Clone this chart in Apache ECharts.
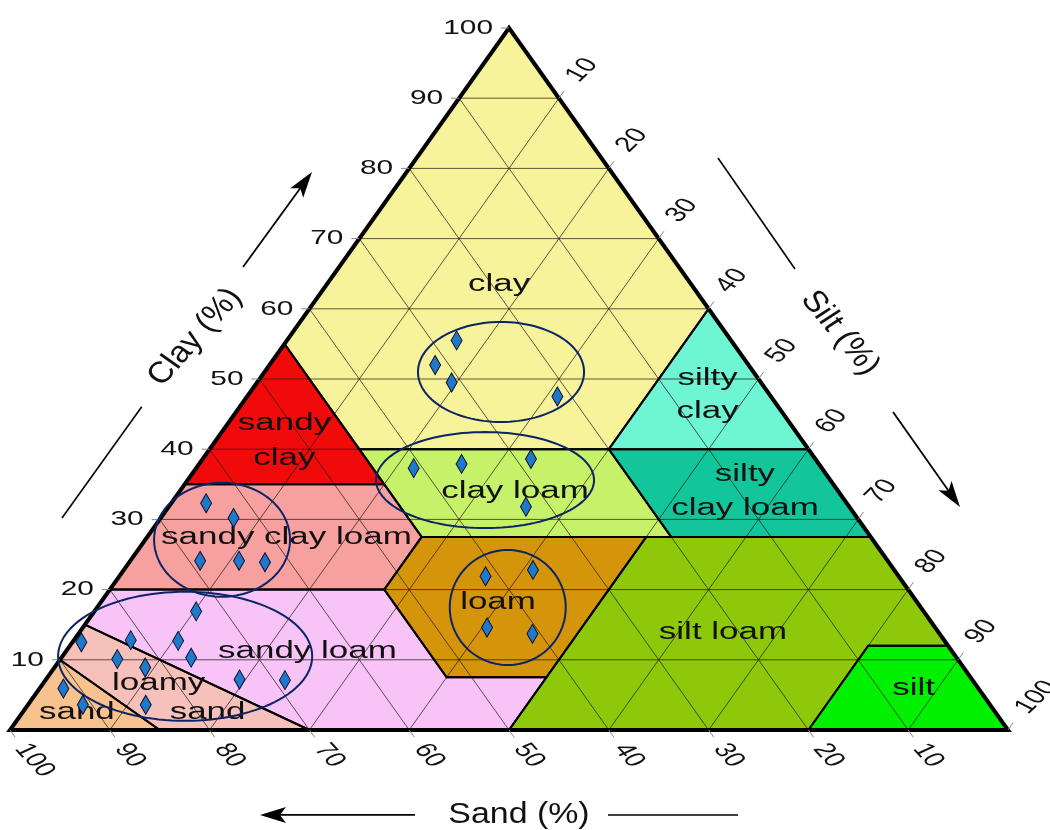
<!DOCTYPE html>
<html>
<head>
<meta charset="utf-8">
<script src="https://cdn.jsdelivr.net/npm/echarts@6/dist/echarts.min.js"></script>
<style>html,body{margin:0;padding:0;background:#fff}#c{width:1050px;height:830px}</style>
</head>
<body>
<div id="c"></div>
<script>
// ================= DATA =================
// Soil texture classes, vertices given as [sand %, clay %] (silt = 100 - sand - clay)
const classNames = ['clay','sandy clay','silty clay','sandy clay loam','clay loam','silty clay loam','loam','silt loam','silt','sandy loam','loamy sand','sand'];
const classVertices = [
  [[0,100],[45,55],[45,40],[20,40],[0,60]],
  [[45,55],[65,35],[45,35]],
  [[0,60],[20,40],[0,40]],
  [[65,35],[45,35],[45,27.5],[52.5,20],[80,20]],
  [[45,40],[20,40],[20,27.5],[45,27.5]],
  [[20,40],[0,40],[0,27.5],[20,27.5]],
  [[45,27.5],[52.5,20],[52.5,7.5],[42.5,7.5],[22.5,27.5]],
  [[22.5,27.5],[0,27.5],[0,12],[8,12],[20,0],[50,0],[42.5,7.5]],
  [[20,0],[8,12],[0,12],[0,0]],
  [[80,20],[52.5,20],[52.5,7.5],[42.5,7.5],[50,0],[70,0],[85,15]],
  [[85,15],[70,0],[85,0],[90,10]],
  [[90,10],[85,0],[100,0]]
];
const classColors = ['#f7f39b','#f00a0a','#6ef5d3','#f7a0a0','#c6f26a','#12c59a','#d5950a','#8dc80a','#00f000','#f8c4f8','#f7c1bb','#f8c28e'];

// Soil samples
const sampleSand = [27.5,31.4,31.0,21.4, 40.9,35.8,28.5,32.4, 64.2,62.5,68.9,65.0,62.5, 41.4,36.2,44.9,40.8, 72.9,86.6,81.5,76.8,84.2,82.0,76.7,73.4,68.9,91.7,90.9,84.6];
const sampleClay = [55.5,52.0,49.5,47.5, 37.3,37.9,38.6,31.8, 32.3,30.2,24.1,24.1,23.9, 21.9,22.8,14.6,13.7, 16.9,12.5,12.8,12.7,10.1,8.9,10.3,7.2,7.1,5.9,3.6,3.6];

// Sample groups (ellipses): centre [sand, clay] and extent in ternary units
const groupCenterSand = [25.3,34.6,65.2,41.4,77.2];
const groupCenterClay = [51.0,35.6,27.1,17.45,10.5];
const groupExtentX = [8.32,10.92,6.81,5.81,12.73];
const groupExtentY = [7.12,6.84,8.12,8.19,9.19];

// Axis ticks
const tickValues = [10,20,30,40,50,60,70,80,90,100];
const gridValues = [10,20,30,40,50,60,70,80,90];

// Region labels
const labelTexts = ['clay','sandy\nclay','silty\nclay','sandy clay loam','clay loam','silty\nclay loam','loam','silt loam','silt','sandy loam','loamy','sand','sand'];
const labelSand = [19.25,51.9,6.25,58.6,32.45,9.37,42.05,21.66,6.5,64.6,81.8,79.0,92.1];
const labelClay = [63.5,41.2,47.7,27.4,33.9,33.97,18.1,13.8,5.9,11.2,6.6,2.4,2.4];
const labelLineHeight = [null,35,33,null,null,34,null,null,null,null,null,null,null];

// ================= LAYOUT =================
const FONT = '"Liberation Sans", Arial, Helvetica, sans-serif';
const toXY = (sand, clay) => [100 - sand - clay + clay / 2, clay];
function unit(a, b) { const dx = b[0]-a[0], dy = b[1]-a[1], l = Math.hypot(dx, dy); return [dx/l, dy/l]; }
function sText(x, y, text, o) {
  const style = {text: text, font: o.size + 'px ' + FONT, fill: o.color || '#000', align: o.align || 'center', verticalAlign: o.va || 'middle'};
  if (o.lh) style.lineHeight = o.lh;
  return {type: 'group', x: x, y: y, scaleX: o.sx, children: [{type: 'text', rotation: (o.rot || 0) * Math.PI / 180, style: style}]};
}
function arrow(a, b, w) {
  const u = unit(a, b), p = [-u[1], u[0]];
  const len = 26, hw = 8, notch = 20;
  const base = [b[0] - u[0]*len, b[1] - u[1]*len];
  return [
    {type: 'line', shape: {x1: a[0], y1: a[1], x2: b[0] - u[0]*12, y2: b[1] - u[1]*12}, style: {stroke: '#000', lineWidth: w}},
    {type: 'polygon', shape: {points: [b, [base[0]+p[0]*hw, base[1]+p[1]*hw], [b[0]-u[0]*notch, b[1]-u[1]*notch], [base[0]-p[0]*hw, base[1]-p[1]*hw]]}, style: {fill: '#000'}}
  ];
}
// annotation anchors in ternary-cartesian units
const ann = {
  clayTitle: [18.54, 55.98], clayArrow: [[23.35,65.95],[30.26,79.49]], clayLine: [[5.21,30.2],[13.2,46.05]],
  siltTitle: [83.17, 56.55], siltLine: [[70.94,81.48],[78.66,65.67]], siltArrow: [[88.48,45.3],[95.19,31.77]],
  sandTitle: [51.0, -12.1], sandArrow: [[40.58,-12.1],[25.05,-12.1]], sandLine: [[59.92,-12.1],[72.95,-12.1]]
};

// grid line list: [kind, value]
const gridItems = [];
gridValues.forEach(v => { gridItems.push(['clay', v]); gridItems.push(['sand', v]); gridItems.push(['silt', v]); });
const tickItems = [];
tickValues.forEach(v => { tickItems.push(['clay', v]); tickItems.push(['sand', v]); tickItems.push(['silt', v]); });

const chart = echarts.init(document.getElementById('c'), null, {renderer: 'canvas'});
const P = (api, sc) => api.coord(toXY(sc[0], sc[1]));

const option = {
  animation: false,
  backgroundColor: '#ffffff',
  grid: {left: 10, right: 42, top: 28, bottom: 100},
  xAxis: {type: 'value', min: 0, max: 100, show: false},
  yAxis: {type: 'value', min: 0, max: 100, show: false},
  series: [
    { // class fills
      type: 'custom', coordinateSystem: 'cartesian2d', z: 1, silent: true,
      data: classVertices.map((v, i) => [i, 0]),
      renderItem: (params, api) => ({
        type: 'polygon',
        shape: {points: classVertices[params.dataIndex].map(p => P(api, p))},
        style: {fill: classColors[params.dataIndex]}
      })
    },
    { // grid lines
      type: 'custom', coordinateSystem: 'cartesian2d', z: 2, silent: true,
      data: gridItems.map((g, i) => [i, 0]),
      renderItem: (params, api) => {
        const g = gridItems[params.dataIndex], v = g[1];
        let a, b;
        if (g[0] === 'clay') { a = P(api, [100 - v, v]); b = P(api, [0, v]); }
        else if (g[0] === 'sand') { a = P(api, [v, 0]); b = P(api, [v, 100 - v]); }
        else { a = P(api, [100 - v, 0]); b = P(api, [0, 100 - v]); }
        return {type: 'line', shape: {x1: a[0], y1: a[1], x2: b[0], y2: b[1]}, style: {stroke: 'rgba(35,25,20,0.72)', lineWidth: 1}};
      }
    },
    { // class borders
      type: 'custom', coordinateSystem: 'cartesian2d', z: 3, silent: true,
      data: classVertices.map((v, i) => [i, 0]),
      renderItem: (params, api) => ({
        type: 'polygon',
        shape: {points: classVertices[params.dataIndex].map(p => P(api, p))},
        style: {fill: 'none', stroke: '#000', lineWidth: 2}
      })
    },
    { // outer triangle
      type: 'custom', coordinateSystem: 'cartesian2d', z: 4, silent: true,
      data: [[0, 0]],
      renderItem: (params, api) => ({
        type: 'polygon',
        shape: {points: [P(api, [100, 0]), P(api, [0, 0]), P(api, [0, 100])]},
        style: {fill: 'none', stroke: '#000', lineWidth: 4, lineJoin: 'miter'}
      })
    },
    { // ticks and tick labels
      type: 'custom', coordinateSystem: 'cartesian2d', z: 4, silent: true,
      data: tickItems.map((t, i) => [i, 0]),
      renderItem: (params, api) => {
        const t = tickItems[params.dataIndex], v = t[1];
        const L = api.coord([0, 0]), R = api.coord([100, 0]), T = api.coord([50, 100]);
        let e, d, len, lab;
        if (t[0] === 'clay') {
          e = P(api, [100 - v, v]); d = [-1, 0]; len = 8;
          lab = sText(e[0] - 16, e[1], String(v), {size: 21, sx: 1.42, align: 'right', color: '#111'});
        } else if (t[0] === 'sand') {
          e = P(api, [v, 0]); d = unit(T, R); len = 9;
          lab = sText(e[0] + d[0]*19, e[1] + d[1]*19, String(v), {size: 21, sx: 1.42, align: 'left', rot: -57, color: '#111'});
        } else {
          e = P(api, [0, 100 - v]); d = unit(L, T); len = 9;
          lab = sText(e[0] + d[0]*23, e[1] + d[1]*23, String(v), {size: 21, sx: 1.42, align: 'left', rot: 53.5, color: '#111'});
        }
        return {type: 'group', children: [
          {type: 'line', shape: {x1: e[0], y1: e[1], x2: e[0] + d[0]*len, y2: e[1] + d[1]*len}, style: {stroke: '#888', lineWidth: 1}},
          lab
        ]};
      }
    },
    { // class labels
      type: 'custom', coordinateSystem: 'cartesian2d', z: 5, silent: true,
      data: labelTexts.map((t, i) => [i, 0]),
      renderItem: (params, api) => {
        const i = params.dataIndex;
        const c = P(api, [labelSand[i], labelClay[i]]);
        return sText(c[0], c[1], labelTexts[i], {size: 23, sx: 1.52, color: '#111', lh: labelLineHeight[i]});
      }
    },
    { // group ellipses
      type: 'custom', coordinateSystem: 'cartesian2d', z: 6, silent: true,
      data: groupCenterSand.map((s, i) => [i, 0]),
      renderItem: (params, api) => {
        const i = params.dataIndex;
        const c = P(api, [groupCenterSand[i], groupCenterClay[i]]);
        const rx = api.size([groupExtentX[i], 0])[0], ry = api.size([0, groupExtentY[i]])[1];
        const pts = [];
        for (let k = 0; k < 120; k++) { const a = k / 120 * 2 * Math.PI; pts.push([c[0] + rx*Math.cos(a), c[1] + ry*Math.sin(a)]); }
        return {type: 'polygon', shape: {points: pts}, style: {fill: 'none', stroke: '#0c2466', lineWidth: 2}};
      }
    },
    { // samples
      type: 'scatter', z: 10, silent: true,
      data: sampleSand.map((s, i) => toXY(s, sampleClay[i])),
      symbol: 'diamond', symbolSize: [11, 19],
      itemStyle: {color: '#1f78c8', borderColor: '#0a0a28', borderWidth: 1, opacity: 1},
      emphasis: {disabled: true}
    },
    { // axis titles and arrows
      type: 'custom', coordinateSystem: 'cartesian2d', z: 6, silent: true,
      data: [[0, 0]],
      renderItem: (params, api) => {
        const c = p => api.coord(p);
        const line = (seg, w) => ({type: 'line', shape: {x1: c(seg[0])[0], y1: c(seg[0])[1], x2: c(seg[1])[0], y2: c(seg[1])[1]}, style: {stroke: '#000', lineWidth: w}});
        const ct = c(ann.clayTitle), st = c(ann.siltTitle), sa = c(ann.sandTitle);
        return {type: 'group', children: [
          sText(ct[0], ct[1], 'Clay (%)', {size: 30, sx: 1.13, rot: 51.5, color: '#111'}),
          sText(st[0], st[1], 'Silt (%)', {size: 30, sx: 1.13, rot: -53.4, color: '#111'}),
          sText(sa[0], sa[1], 'Sand (%)', {size: 30, sx: 1.13, color: '#111'}),
          line(ann.clayLine, 1.6), line(ann.siltLine, 1.6), line(ann.sandLine, 1.6)
        ].concat(arrow(c(ann.clayArrow[0]), c(ann.clayArrow[1]), 1.8))
         .concat(arrow(c(ann.siltArrow[0]), c(ann.siltArrow[1]), 1.8))
         .concat(arrow(c(ann.sandArrow[0]), c(ann.sandArrow[1]), 1.8))};
      }
    }
  ]
};
chart.setOption(option);
</script>
</body>
</html>
